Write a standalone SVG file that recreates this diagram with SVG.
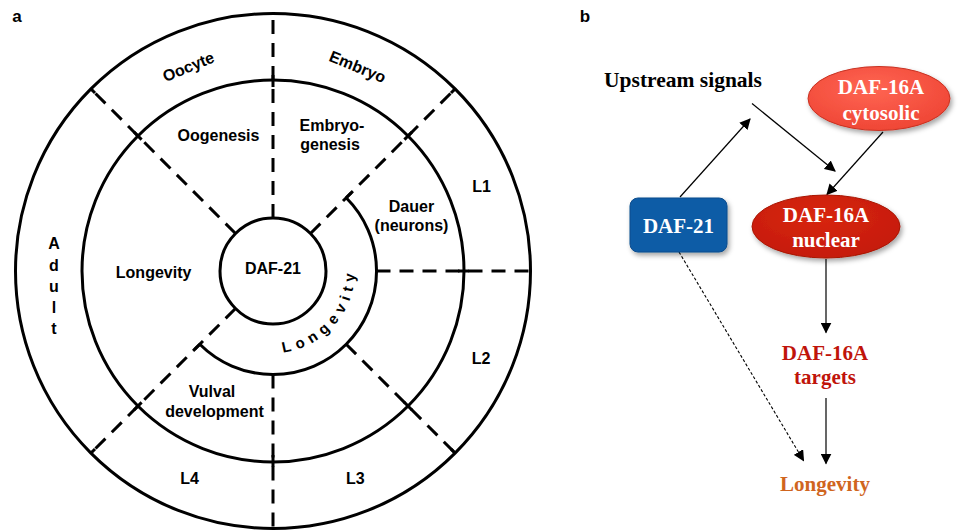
<svg xmlns="http://www.w3.org/2000/svg" width="958" height="531" viewBox="0 0 958 531">
<defs>
<style>
.ring{fill:none;stroke:#000;stroke-width:3}
.dash{fill:none;stroke:#000;stroke-width:3;stroke-dasharray:14 9}
.tick{stroke:#000;stroke-width:3}
.sa{font-family:"Liberation Sans",Arial,sans-serif;font-weight:bold;font-size:16px;fill:#000;text-anchor:middle}
.sb{font-family:"Liberation Serif","Times New Roman",serif;font-weight:bold;font-size:21px;text-anchor:middle}
.w{fill:#fff}
.edge{fill:none;stroke:#000;stroke-width:1.2}
</style>
<marker id="ah" viewBox="0 0 10 10" refX="9" refY="5" markerWidth="11" markerHeight="11" markerUnits="userSpaceOnUse" orient="auto">
<path d="M0,0 L10,5 L0,10 z" fill="#000"/>
</marker>
<filter id="sh" x="-20%" y="-20%" width="150%" height="160%">
<feDropShadow dx="2" dy="3" stdDeviation="2.5" flood-color="#000" flood-opacity="0.35"/>
</filter>
<radialGradient id="gc" cx="45%" cy="35%" r="70%">
<stop offset="0" stop-color="#FF6553"/>
<stop offset="1" stop-color="#EE4433"/>
</radialGradient>
<radialGradient id="gn" cx="45%" cy="35%" r="70%">
<stop offset="0" stop-color="#D8260F"/>
<stop offset="1" stop-color="#C41A08"/>
</radialGradient>
<path id="arcText" d="M278.65,352.8 A82,82 0 0 0 354.8,265.3"/>
</defs>
<rect width="958" height="531" fill="#fff"/>

<!-- Panel a -->
<g id="panel-a">
<text x="17" y="22" class="sa" style="font-size:17px">a</text>
<g id="rings">
<circle cx="273" cy="271" r="257.5" class="ring"/>
<circle cx="273" cy="271" r="191" class="ring"/>
<path d="M346.19,197.81 A103.5,103.5 0 1 1 199.81,344.19" class="ring"/>
</g>
<g id="dividers">
<line x1="273" y1="218" x2="273" y2="13.5" class="dash"/>
<line x1="235.52" y1="233.52" x2="90.92" y2="88.92" class="dash"/>
<line x1="310.48" y1="233.52" x2="455.08" y2="88.92" class="dash"/>
<line x1="376.5" y1="271" x2="530.5" y2="271" class="dash"/>
<line x1="346.19" y1="344.19" x2="455.08" y2="453.08" class="dash"/>
<line x1="273" y1="374.5" x2="273" y2="528.5" class="dash"/>
<line x1="235.52" y1="308.48" x2="90.92" y2="453.08" class="dash"/>
<line x1="346.19" y1="197.81" x2="351.5" y2="192.5" class="tick"/>
<line x1="199.81" y1="344.19" x2="194.5" y2="349.5" class="tick"/>
<line x1="273" y1="75" x2="273" y2="87" class="tick"/>
<line x1="273" y1="455" x2="273" y2="467" class="tick"/>
<line x1="133.8" y1="131.8" x2="141.6" y2="139.6" class="tick"/>
<line x1="412.2" y1="131.8" x2="404.4" y2="139.6" class="tick"/>
<line x1="412.2" y1="410.2" x2="404.4" y2="402.4" class="tick"/>
<line x1="133.8" y1="410.2" x2="141.6" y2="402.4" class="tick"/>
<line x1="458" y1="271" x2="469" y2="271" class="tick"/>
<line x1="90.92" y1="88.92" x2="95" y2="93" class="tick"/>
<line x1="455.08" y1="88.92" x2="451" y2="93" class="tick"/>
<line x1="455.08" y1="453.08" x2="451" y2="449" class="tick"/>
<line x1="90.92" y1="453.08" x2="95" y2="449" class="tick"/>
</g>
<g id="inner-node">
<circle cx="273" cy="271" r="53" class="ring"/>
<text x="273" y="274" class="sa">DAF-21</text>
</g>
<g id="labels-a">
<text class="sa" transform="translate(188.4,66.8) rotate(-22.5)" x="0" y="5.5">Oocyte</text>
<text class="sa" transform="translate(357.6,66.8) rotate(22.5)" x="0" y="5.5">Embryo</text>
<text x="218.5" y="141" class="sa">Oogenesis</text>
<text x="332" y="130.5" class="sa">Embryo-</text>
<text x="330" y="149.5" class="sa">genesis</text>
<text x="411.5" y="212" class="sa">Dauer</text>
<text x="411.5" y="231" class="sa">(neurons)</text>
<text x="481.5" y="192" class="sa">L1</text>
<text x="153.6" y="278" class="sa">Longevity</text>
<text x="481" y="364" class="sa">L2</text>
<text x="212" y="397" class="sa">Vulval</text>
<text x="214.5" y="416.5" class="sa">development</text>
<text x="189.6" y="484" class="sa">L4</text>
<text x="355.3" y="484" class="sa">L3</text>
<text x="54" y="249" class="sa">A</text>
<text x="54" y="270.5" class="sa">d</text>
<text x="54" y="291.5" class="sa">u</text>
<text x="54" y="313" class="sa">l</text>
<text x="54" y="334" class="sa">t</text>
<text class="sa" style="font-size:15px;text-anchor:start;letter-spacing:5.6px"><textPath href="#arcText" startOffset="4.5">Longevity</textPath></text>
</g>
</g>

<!-- Panel b -->
<text x="585" y="22" class="sa" style="font-size:17px">b</text>
<g id="connectors">
<line x1="680" y1="197" x2="750" y2="119" class="edge" marker-end="url(#ah)"/>
<line x1="752" y1="103.5" x2="835" y2="171" class="edge" marker-end="url(#ah)"/>
<line x1="883" y1="132" x2="827" y2="194.5" class="edge" marker-end="url(#ah)"/>
<line x1="826" y1="259" x2="826" y2="332.5" class="edge" marker-end="url(#ah)"/>
<line x1="826" y1="398" x2="826" y2="463.5" class="edge" marker-end="url(#ah)"/>
<line x1="679" y1="252" x2="803.5" y2="460.5" class="edge" style="stroke-width:1.1;stroke-dasharray:3 2" marker-end="url(#ah)"/>
</g>
<g id="upstream">
<text x="683" y="86.5" class="sb" style="font-size:21.5px;fill:#000">Upstream signals</text>
</g>
<g id="daf16a-cyto">
<ellipse cx="879" cy="98.5" rx="71" ry="32" fill="url(#gc)" stroke="#C83222" stroke-width="1" filter="url(#sh)"/>
<text x="881" y="94" class="sb w">DAF-16A</text>
<text x="881" y="119.5" class="sb w">cytosolic</text>
</g>
<g id="daf21-b">
<rect x="630" y="198" width="97" height="54" rx="8" ry="8" fill="#0A5BA6" stroke="#084C8C" stroke-width="1" filter="url(#sh)"/>
<text x="678.5" y="232.5" class="sb w">DAF-21</text>
</g>
<g id="daf16a-nuc">
<ellipse cx="826" cy="226.5" rx="74" ry="31.5" fill="url(#gn)" stroke="#A81505" stroke-width="1" filter="url(#sh)"/>
<text x="826" y="221.5" class="sb w">DAF-16A</text>
<text x="826" y="246.5" class="sb w">nuclear</text>
</g>
<g id="targets">
<text x="825" y="360" class="sb" style="fill:#C0140A">DAF-16A</text>
<text x="825" y="384" class="sb" style="fill:#C0140A">targets</text>
</g>
<g id="longevity-b">
<text x="825" y="491" class="sb" style="fill:#D0651E">Longevity</text>
</g>
</svg>
